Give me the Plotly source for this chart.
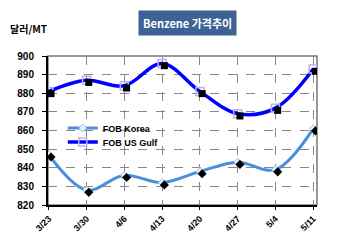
import plotly.graph_objects as go

dates = ["3/23", "3/30", "4/6", "4/13", "4/20", "4/27", "5/4", "5/11"]
fob_korea = [847, 828, 836, 832, 838, 843, 839, 861]
fob_usgulf = [881, 887, 884, 896, 881, 869, 872, 893]
y_ticks = [820, 830, 840, 850, 860, 870, 880, 890, 900]

FONT = "Liberation Sans, Arial, sans-serif"
xs = list(range(len(dates)))

fig = go.Figure()

# shadow markers on an offset overlay axis
fig.add_trace(go.Scatter(x=xs, y=fob_usgulf, mode="markers", xaxis="x2", yaxis="y2",
                         marker=dict(symbol="square", size=7, color="black"),
                         showlegend=False, hoverinfo="skip"))
fig.add_trace(go.Scatter(x=xs, y=fob_korea, mode="markers", xaxis="x2", yaxis="y2",
                         marker=dict(symbol="diamond", size=7, color="black"),
                         showlegend=False, hoverinfo="skip"))

fig.add_trace(go.Scatter(x=xs, y=fob_korea, mode="lines+markers", name="FOB Korea",
                         legend="legend",
                         line=dict(color="#4a8fdc", width=3, shape="spline", smoothing=1.0),
                         marker=dict(symbol="diamond", size=6, color="#e8eefa",
                                     line=dict(color="#9cc0ec", width=1))))
fig.add_trace(go.Scatter(x=xs, y=fob_usgulf, mode="lines+markers", name="FOB US Gulf",
                         legend="legend2",
                         line=dict(color="#0000ff", width=3.5, shape="spline", smoothing=1.0),
                         marker=dict(symbol="square-open", size=8, color="#b8b0ff",
                                     line=dict(width=1.5))))

xr = [-0.02, 7.1]
yr = [820, 900]
xr2 = [xr[0] - 0.06, xr[1] - 0.06]
yr2 = [yr[0] + 1.2, yr[1] + 1.2]
fig.update_layout(
    width=350, height=245,
    margin=dict(l=48, r=33, t=56, b=40),
    paper_bgcolor="white", plot_bgcolor="white",
    font=dict(family=FONT, size=9, color="black"),
    xaxis=dict(range=xr, tickmode="array", tickvals=xs, ticktext=dates,
               tickangle=-45, tickfont=dict(size=9, weight="bold"),
               showgrid=True, gridcolor="#888888", griddash="dash", gridwidth=1,
               showline=True, linecolor="black", linewidth=2,
               ticks="outside", ticklen=3, tickcolor="black", zeroline=False),
    yaxis=dict(range=yr, tickmode="array", tickvals=y_ticks,
               tickfont=dict(size=10, weight="bold"),
               showgrid=True, gridcolor="#888888", griddash="dash", gridwidth=1,
               showline=True, linecolor="black", linewidth=2,
               ticks="outside", ticklen=4, tickcolor="black", zeroline=False,
               ticklabelstandoff=6),
    xaxis2=dict(range=xr2, overlaying="x", visible=False, anchor="y2"),
    yaxis2=dict(range=yr2, overlaying="y", visible=False, anchor="x2"),
    legend=dict(x=0.055, y=(205 - 128) / 149, xanchor="left", yanchor="middle",
                bgcolor="rgba(255,255,255,0)", font=dict(size=9, weight="bold"),
                itemwidth=30),
    legend2=dict(x=0.055, y=(205 - 142) / 149, xanchor="left", yanchor="middle",
                 bgcolor="rgba(255,255,255,0)", font=dict(size=9, weight="bold"),
                 itemwidth=30),
    showlegend=True,
)

fig.add_shape(type="rect", xref="paper", yref="paper", x0=0, x1=1, y0=0, y1=1,
              line=dict(color="#777777", width=1.5), layer="below")

fig.add_annotation(text="Benzene 가격추이", xref="paper", yref="paper",
                   x=0.52, y=1 + (56 - 23) / 149, xanchor="center", yanchor="middle", showarrow=False,
                   font=dict(family="Noto Sans CJK KR, " + FONT, size=11, color="white", weight="bold"),
                   bgcolor="#3d6296", borderpad=4)
fig.add_annotation(text="달러/MT", xref="paper", yref="paper",
                   x=-0.15, y=1 + (56 - 28) / 149, xanchor="left", yanchor="middle", showarrow=False,
                   font=dict(family="Noto Sans CJK KR, " + FONT, size=10, color="black", weight="bold"))

fig.write_html("out.html")
